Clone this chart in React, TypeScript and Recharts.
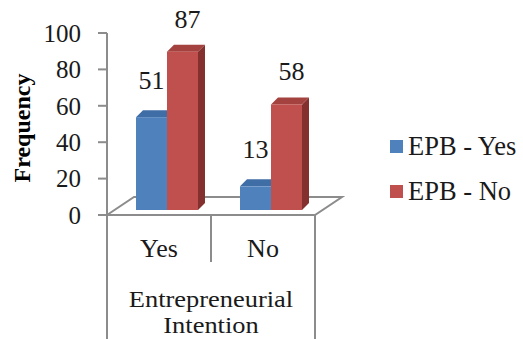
import React from "react";
import { Bar, BarChart, LabelList, XAxis, YAxis } from "recharts";

const CATEGORIES = ["Yes", "No"];
const EPB_YES = [51, 13];
const EPB_NO = [87, 58];
const Y_TICKS = [0, 20, 40, 60, 80, 100];
const X_TITLE = ["Entrepreneurial", "Intention"];
const Y_TITLE = "Frequency";

const SERIES = [
  { key: "epbYes", name: "EPB - Yes", front: "#4F81BD", top: "#3F6DA6", side: "#385D8A", labelDx: 0, labelDy: 28 },
  { key: "epbNo", name: "EPB - No", front: "#C0504D", top: "#A3423F", side: "#83302E", labelDx: 5, labelDy: 24 },
];

const data = CATEGORIES.map((name, i) => ({ name, epbYes: EPB_YES[i], epbNo: EPB_NO[i] }));

const W = 523;
const H = 339;
const PLOT_LEFT = 107;
const PLOT_RIGHT = 315;
const PLOT_TOP = 33;
const PLOT_BOTTOM = 215;
const SHIFT_X = 8; // 3d offset of the bar row from the axis plane
const SHIFT_Y = -5;
const DEPTH = 7;
const FLOOR_DX = 27;
const FLOOR_DY = 18;
const AXIS = "#8C8C8C";
const FONT = "'Liberation Serif', 'Times New Roman', serif";

const make3DBar = (s: (typeof SERIES)[number]) => (props: any) => {
  const { x, y, width, height } = props;
  if (height == null || width == null) return <g />;
  const fx = x + SHIFT_X;
  const fy = y + SHIFT_Y;
  const r = fx + width;
  const b = fy + height;
  return (
    <g>
      <polygon
        points={`${r},${fy} ${r + DEPTH},${fy - DEPTH} ${r + DEPTH},${b - DEPTH} ${r},${b}`}
        fill={s.side}
      />
      <polygon
        points={`${fx},${fy} ${fx + DEPTH},${fy - DEPTH} ${r + DEPTH},${fy - DEPTH} ${r},${fy}`}
        fill={s.top}
      />
      <rect x={fx} y={fy} width={width} height={height} fill={s.front} />
    </g>
  );
};

const makeLabel = (s: (typeof SERIES)[number]) => (props: any) => {
  const { x, y, width, value } = props;
  return (
    <text
      x={x + SHIFT_X + width / 2 + s.labelDx}
      y={y + SHIFT_Y - s.labelDy}
      textAnchor="middle"
      fontFamily={FONT}
      fontSize={26}
      fill="#1a1a1a"
    >
      {value}
    </text>
  );
};

const CategoryTick = (props: any) => {
  const { payload, index } = props;
  const half = payload.offset || (PLOT_RIGHT - PLOT_LEFT) / CATEGORIES.length / 2;
  const cx = payload.coordinate;
  const last = index === CATEGORIES.length - 1;
  return (
    <g>
      {index === 0 && (
        <line x1={cx - half} y1={PLOT_BOTTOM} x2={cx - half} y2={H} stroke={AXIS} strokeWidth={2} />
      )}
      <line
        x1={cx + half}
        y1={PLOT_BOTTOM}
        x2={cx + half}
        y2={last ? H : PLOT_BOTTOM + 47}
        stroke={AXIS}
        strokeWidth={2}
      />
      <text x={cx} y={PLOT_BOTTOM + 42} textAnchor="middle" fontFamily={FONT} fontSize={26} fill="#1a1a1a">
        {payload.value}
      </text>
    </g>
  );
};

// the outer category level, two lines, a little wider than tall like the source
const XTitle = (props: any) => {
  const vb = props.viewBox || {};
  const cx = (vb.x ?? PLOT_LEFT) + (vb.width ?? PLOT_RIGHT - PLOT_LEFT) / 2;
  return (
    <g transform={`translate(${cx},0) scale(1.15,1)`}>
      {X_TITLE.map((t, i) => (
        <text
          key={t}
          x={0}
          y={PLOT_BOTTOM + 92 + i * 26}
          textAnchor="middle"
          fontFamily={FONT}
          fontSize={23}
          fill="#1a1a1a"
        >
          {t}
        </text>
      ))}
    </g>
  );
};

const YTitle = () => (
  <text
    x={22}
    y={128}
    transform="rotate(-90, 22, 128)"
    textAnchor="middle"
    dominantBaseline="central"
    fontFamily={FONT}
    fontWeight="bold"
    fontSize={24}
    fill="#000"
  >
    {Y_TITLE}
  </text>
);

const Floor = () => (
  <g stroke={AXIS} strokeWidth={2} fill="none">
    <polyline
      points={`${PLOT_LEFT},${PLOT_BOTTOM} ${PLOT_LEFT + FLOOR_DX},${PLOT_BOTTOM - FLOOR_DY} ${PLOT_RIGHT + FLOOR_DX},${PLOT_BOTTOM - FLOOR_DY} ${PLOT_RIGHT},${PLOT_BOTTOM} ${PLOT_LEFT},${PLOT_BOTTOM}`}
    />
  </g>
);

const LegendBox = () => (
  <g>
    {SERIES.map((s, i) => (
      <g key={s.key}>
        <rect x={390} y={140 + i * 45} width={13} height={13} fill={s.front} />
        <text x={408} y={155 + i * 45} fontFamily={FONT} fontSize={26.5} fill="#1a1a1a">
          {s.name}
        </text>
      </g>
    ))}
  </g>
);

export default function App() {
  return (
    <div style={{ position: "absolute", left: 0, top: 0, background: "#fff" }}>
      <BarChart
        width={W}
        height={H}
        data={data}
        margin={{ top: PLOT_TOP, right: W - PLOT_RIGHT, bottom: 0, left: 0 }}
        barCategoryGap={21}
        barGap={0}
      >
        <Floor />
        <XAxis
          dataKey="name"
          height={H - PLOT_BOTTOM}
          axisLine={false}
          tickLine={false}
          tick={<CategoryTick />}
          interval={0}
          label={<XTitle />}
        />
        <YAxis
          width={PLOT_LEFT}
          domain={[0, 100]}
          ticks={Y_TICKS}
          interval={0}
          tickSize={9}
          tickMargin={17}
          axisLine={{ stroke: AXIS, strokeWidth: 2 }}
          tickLine={{ stroke: AXIS, strokeWidth: 2 }}
          tick={{ fill: "#1a1a1a", fontSize: 25, fontFamily: FONT }}
          label={<YTitle />}
        />
        {SERIES.map((s) => (
          <Bar
            key={s.key}
            dataKey={s.key}
            name={s.name}
            fill={s.front}
            shape={make3DBar(s)}
            isAnimationActive={false}
          >
            <LabelList dataKey={s.key} content={makeLabel(s)} />
          </Bar>
        ))}
        <LegendBox />
      </BarChart>
    </div>
  );
}
